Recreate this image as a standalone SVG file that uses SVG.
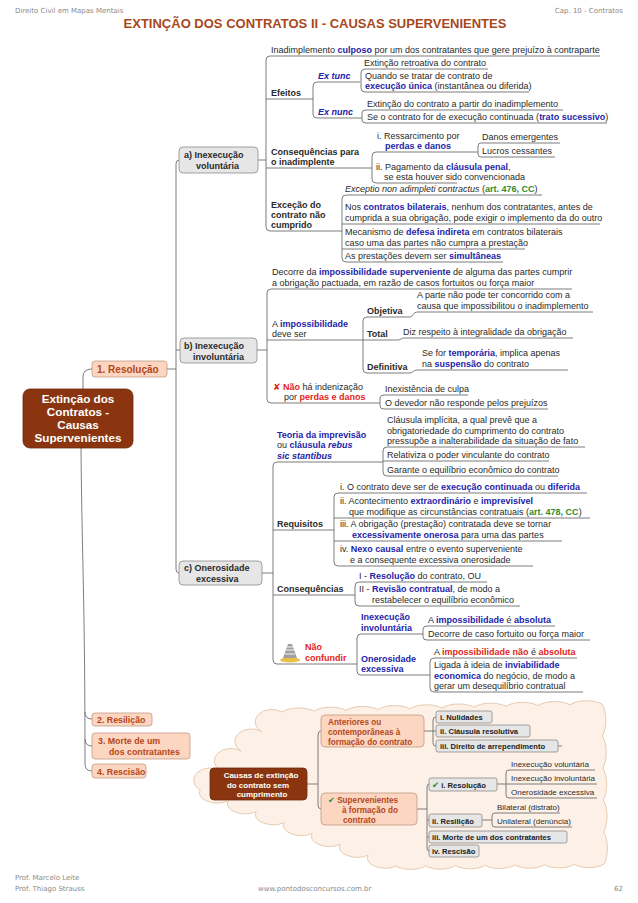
<svg xmlns="http://www.w3.org/2000/svg" width="638" height="903" viewBox="0 0 638 903">
<style>
text{font-family:"Liberation Sans",Arial,sans-serif;font-size:9px;fill:#2a2a2a}
.b{font-weight:bold}
.u{fill:#2424a8;font-weight:bold}
.r{fill:#e3241b;font-weight:bold}
.g{fill:#2e8b2e;font-weight:bold}
.i{font-style:italic}
.sym{font-family:"DejaVu Sans",sans-serif}
.ln{fill:none;stroke:#6e6e6e;stroke-width:0.9}
.hd{font-family:"DejaVu Sans",Verdana,sans-serif;font-size:7px;fill:#8a8a8a}
.gb{fill:#e6e6e6;stroke:#8a8a8a;stroke-width:0.8}
.sb{fill:#fcd6c1;stroke:#c39a83;stroke-width:0.8}
.sbt{fill:#b5461a;font-weight:bold}
.db{fill:#8a3510;stroke:#6e2a0c;stroke-width:0.8}
.wt{fill:#ffffff;font-weight:bold}
.s8{font-size:8px}
.bx{font-size:7.6px;font-weight:bold;fill:#222}
</style>

<text class="hd" x="15" y="13">Direito Civil em Mapas Mentais</text>
<text class="hd" x="623" y="13" text-anchor="end">Cap. 10 - Contratos</text>
<text x="315" y="28" text-anchor="middle" style="font-size:13px;font-weight:bold;fill:#a8481c">EXTINÇÃO DOS CONTRATOS II - CAUSAS SUPERVENIENTES</text>

<path d="M282,712 a20,9 0 0,1 32,-0.8 a20,9 0 0,1 32,-0.8 a20,9 0 0,1 32,-0.8 a20,9 0 0,1 32,-0.8 a20,9 0 0,1 32,-0.8 a20,9 0 0,1 32,-0.8 a20,9 0 0,1 32,-0.8 a20,9 0 0,1 32,-0.8 a20,9 0 0,1 32,-0.8 a20,9 0 0,1 32,-0.8 a9,20 0 0,1 0.4,32 a9,20 0 0,1 0.4,32 a9,20 0 0,1 0.4,32 a9,20 0 0,1 0.4,32 a9,20 0 0,1 0.4,32 a18,8 0 0,1 -29.7,0.3 a18,8 0 0,1 -29.7,0.3 a18,8 0 0,1 -29.7,0.3 a18,8 0 0,1 -29.7,0.3 a18,8 0 0,1 -29.7,0.3 a18,8 0 0,1 -29.7,0.3 a18,8 0 0,1 -29.7,0.3 a18,10 0 0,1 -28,-10.86 a18,10 0 0,1 -28,-10.86 a18,10 0 0,1 -28,-10.86 a18,10 0 0,1 -28,-10.86 a18,10 0 0,1 -28,-10.86 a18,10 0 0,1 -28,-10.86 a18,10 0 0,1 -28,-10.86 a16,12 0 0,1 20.5,-19.5 a16,12 0 0,1 20.5,-19.5 a16,12 0 0,1 20.5,-19.5 a16,12 0 0,1 20.5,-19.5 Z" fill="#fdf1e7" stroke="#e8cbb0" stroke-width="1"/>

<g id="connectors" class="ln">
<path d="M83,389 L83,377 Q83,369 92,369"/>
<path d="M81,448 C82,560 85,600 85,764 Q85,771 92,771"/>
<path d="M85,712 Q85,719 92,719"/>
<path d="M85,739 Q85,746 92,746"/>
<path d="M167,369 L176,369"/>
<path d="M179,160 Q176,160 176,164 L176,569 Q176,573 179,573"/>
<path d="M176,350 L180,350"/>
<path d="M258,160 L266,160"/>
<path d="M600,56 L270,56 Q266,56 266,60 L266,227 Q266,231 270,231 L342,231"/>
<path d="M266,99 L313,99"/>
<path d="M266,168 L372,168"/>
<path d="M360,82 L317,82 Q313,82 313,86 L313,114 Q313,118 317,118 L362,118"/>
<path d="M488,69 L365,69 Q361,69 361,73 L361,88 Q361,92 365,92 L529,92"/>
<path d="M563,110 L366,110 Q362,110 362,113 L362,120 Q362,123 366,123 L607,123"/>
<path d="M478,152 L376,152 Q372,152 372,156 L372,179 Q372,183 376,183 L457,183"/>
<path d="M560,143 L481,143 Q478,143 478,146 L478,154 Q478,157 481,157 L555,157"/>
<path d="M542,195 L346,195 Q342,195 342,199 L342,258 Q342,262 346,262 L503,262"/>
<path d="M342,224 L600,224"/>
<path d="M342,249 L525,249"/>
<path d="M257,350 L267,350"/>
<path d="M572,289 L271,289 Q267,289 267,293 L267,399 Q267,403 271,403 L380,403"/>
<path d="M267,340 L363,340"/>
<path d="M410,317 L367,317 Q363,317 363,321 L363,369 Q363,373 367,373 L410,373"/>
<path d="M363,340 L398,340"/>
<path d="M410,317 C413,317 413,312 417,312 L593,312"/>
<path d="M398,340 C401,340 401,338 404,338 L573,338"/>
<path d="M410,373 C413,373 413,370 417,370 L568,370"/>
<path d="M468,395 L384,395 Q380,395 380,398 L380,406 Q380,409 384,409 L548,409"/>
<path d="M262,573 L273,573"/>
<path d="M383,462 L277,462 Q273,462 273,466 L273,660 Q273,664 277,664 L357,664"/>
<path d="M273,530 L334,530"/>
<path d="M273,595 L355,595"/>
<path d="M585,447 L387,447 Q383,447 383,451 L383,472 Q383,476 387,476 L558,476"/>
<path d="M383,461 L549,461"/>
<path d="M587,493 L338,493 Q334,493 334,497 L334,562 Q334,566 338,566 L533,566"/>
<path d="M334,518 L590,518"/>
<path d="M334,541 L562,541"/>
<path d="M487,582 L359,582 Q355,582 355,586 L355,602 Q355,606 359,606 L520,606"/>
<path d="M423,634 L361,634 Q357,634 357,638 L357,671 Q357,675 361,675 L430,675"/>
<path d="M555,626 L427,626 Q423,626 423,629 L423,637 Q423,640 427,640 L590,640"/>
<path d="M577,658 L434,658 Q430,658 430,662 L430,688 Q430,692 434,692 L583,692"/>
<path d="M307,784 L318,784"/>
<path d="M321,731 Q318,731 318,735 L318,805 Q318,809 321,809"/>
<path d="M424,731 L436,731"/>
<path d="M436,717 Q433,717 433,720 L433,743 Q433,746 436,746"/>
<path d="M558,746 L562,746"/>
<path d="M417,809 L427,809"/>
<path d="M429,784 Q427,784 427,787 L427,848 Q427,851 429,851"/>
<path d="M427,820 L429,820"/>
<path d="M427,837 L429,837"/>
<path d="M497,784 L597,784"/>
<path d="M595,770 L509,770 Q506,770 506,773 L506,795 Q506,798 509,798 L597,798"/>
<path d="M482,820 L492,820"/>
<path d="M560,813 L495,813 Q492,813 492,816 L492,824 Q492,827 495,827 L572,827"/>
</g>

<g id="main">
<rect class="db" x="23" y="389" width="110" height="59" rx="7"/>
<text class="wt" x="78" y="403" text-anchor="middle" style="font-size:11.7px">Extinção dos</text>
<text class="wt" x="78" y="416" text-anchor="middle" style="font-size:11.7px">Contratos -</text>
<text class="wt" x="78" y="429" text-anchor="middle" style="font-size:11.7px">Causas</text>
<text class="wt" x="78" y="442" text-anchor="middle" style="font-size:11.7px">Supervenientes</text>
</g>

<g id="n1">
<rect class="sb" x="92" y="361" width="75" height="16" rx="3"/>
<text class="sbt" x="97" y="373" style="font-size:10px">1. Resolução</text>
</g>
<g id="n2">
<rect class="sb" x="92" y="713" width="60" height="13" rx="3"/>
<text class="sbt" x="97" y="723" style="font-size:8.8px">2. Resilição</text>
</g>
<g id="n3">
<rect class="sb" x="92" y="733" width="98" height="26" rx="3"/>
<text class="sbt" x="98" y="744" style="font-size:8.8px">3. Morte de um</text>
<text class="sbt" x="109" y="755" style="font-size:8.8px">dos contratantes</text>
</g>
<g id="n4">
<rect class="sb" x="92" y="764" width="54" height="14" rx="3"/>
<text class="sbt" x="97" y="774.5" style="font-size:8.8px">4. Rescisão</text>
</g>

<g id="na">
<rect class="gb" x="179" y="147" width="79" height="26" rx="4"/>
<text class="b" x="184" y="158">a) Inexecução</text>
<text class="b" x="196" y="169">voluntária</text>
</g>
<g id="nb">
<rect class="gb" x="180" y="338" width="77" height="25" rx="4"/>
<text class="b" x="184" y="349">b) Inexecução</text>
<text class="b" x="193" y="360">involuntária</text>
</g>
<g id="nc">
<rect class="gb" x="179" y="561" width="83" height="24" rx="4"/>
<text class="b" x="184" y="571">c) Onerosidade</text>
<text class="b" x="196" y="582">excessiva</text>
</g>

<g id="a-branch">
<text x="271" y="53">Inadimplemento <tspan class="u">culposo</tspan> por um dos contratantes que gere prejuízo à contraparte</text>
<text class="b" x="271" y="96">Efeitos</text>
<text class="u i" x="318" y="79">Ex tunc</text>
<text class="u i" x="318" y="115">Ex nunc</text>
<text x="364" y="66">Extinção retroativa do contrato</text>
<text x="365" y="79">Quando se tratar de contrato de</text>
<text x="365" y="89"><tspan class="u">execução única</tspan> (instantânea ou diferida)</text>
<text x="367" y="107">Extinção do contrato a partir do inadimplemento</text>
<text x="367" y="120">Se o contrato for de execução continuada (<tspan class="u">trato sucessivo</tspan>)</text>
<text class="b" x="271" y="155">Consequências para</text>
<text class="b" x="271" y="165">o inadimplente</text>
<text x="377" y="139">i. Ressarcimento por</text>
<text class="u" x="385" y="149">perdas e danos</text>
<text x="482" y="140">Danos emergentes</text>
<text x="482" y="154">Lucros cessantes</text>
<text x="376" y="170">ii. Pagamento da <tspan class="u">cláusula penal</tspan>,</text>
<text x="384" y="180">se esta houver sido convencionada</text>
<text class="b" x="271" y="208">Exceção do</text>
<text class="b" x="271" y="218">contrato não</text>
<text class="b" x="271" y="228">cumprido</text>
<text x="345" y="192"><tspan class="i">Exceptio non adimpleti contractus</tspan> (<tspan class="g">art. 476, CC</tspan>)</text>
<text x="345" y="210">Nos <tspan class="u">contratos bilaterais</tspan>, nenhum dos contratantes, antes de</text>
<text x="345" y="221">cumprida a sua obrigação, pode exigir o implemento da do outro</text>
<text x="345" y="235">Mecanismo de <tspan class="u">defesa indireta</tspan> em contratos bilaterais</text>
<text x="345" y="246">caso uma das partes não cumpra a prestação</text>
<text x="345" y="259">As prestações devem ser <tspan class="u">simultâneas</tspan></text>
</g>

<g id="b-branch">
<text x="272" y="275">Decorre da <tspan class="u">impossibilidade superveniente</tspan> de alguma das partes cumprir</text>
<text x="272" y="286">a obrigação pactuada, em razão de casos fortuitos ou força maior</text>
<text x="272" y="327">A <tspan class="u">impossibilidade</tspan></text>
<text x="272" y="337">deve ser</text>
<text class="b" x="367" y="314">Objetiva</text>
<text class="b" x="367" y="337">Total</text>
<text class="b" x="367" y="370">Definitiva</text>
<text x="417" y="298">A parte não pode ter concorrido com a</text>
<text x="417" y="309">causa que impossibilitou o inadimplemento</text>
<text x="403" y="335">Diz respeito à integralidade da obrigação</text>
<text x="422" y="356">Se for <tspan class="u">temporária</tspan>, implica apenas</text>
<text x="422" y="367">na <tspan class="u">suspensão</tspan> do contrato</text>
<text x="273" y="390"><tspan class="r sym">✘</tspan> <tspan class="r">Não</tspan> há indenização</text>
<text x="284" y="400">por <tspan class="r">perdas e danos</tspan></text>
<text x="385" y="392">Inexistência de culpa</text>
<text x="385" y="406">O devedor não responde pelos prejuízos</text>
</g>

<g id="c-branch">
<text class="u" x="277" y="438">Teoria da imprevisão</text>
<text x="277" y="448">ou <tspan class="u">cláusula <tspan class="i">rebus</tspan></tspan></text>
<text class="u i" x="277" y="459">sic stantibus</text>
<text x="387" y="423">Cláusula implícita, a qual prevê que a</text>
<text x="387" y="434">obrigatoriedade do cumprimento do contrato</text>
<text x="387" y="444">pressupõe a inalterabilidade da situação de fato</text>
<text x="387" y="458">Relativiza o poder vinculante do contrato</text>
<text x="387" y="473">Garante o equilíbrio econômico do contrato</text>
<text class="b" x="277" y="527">Requisitos</text>
<text x="340" y="490">i. O contrato deve ser de <tspan class="u">execução continuada</tspan> ou <tspan class="u">diferida</tspan></text>
<text x="340" y="504">ii. Acontecimento <tspan class="u">extraordinário</tspan> e <tspan class="u">imprevisível</tspan></text>
<text x="349" y="515">que modifique as circunstâncias contratuais (<tspan class="g">art. 478, CC</tspan>)</text>
<text x="340" y="527">iii. A obrigação (prestação) contratada deve se tornar</text>
<text x="352" y="538"><tspan class="u">excessivamente onerosa</tspan> para uma das partes</text>
<text x="340" y="552">iv. <tspan class="u">Nexo causal</tspan> entre o evento superveniente</text>
<text x="350" y="563">e a consequente excessiva onerosidade</text>
<text class="b" x="277" y="592">Consequências</text>
<text x="359" y="579">I - <tspan class="u">Resolução</tspan> do contrato, OU</text>
<text x="359" y="592">II - <tspan class="u">Revisão contratual</tspan>, de modo a</text>
<text x="372" y="603">restabelecer o equilíbrio econômico</text>
<g id="icon">
<ellipse cx="290" cy="660" rx="10" ry="2.5" fill="#e6bf45"/>
<path d="M283,658 L297,658 L292,644 L288,644 Z" fill="#a0a0a0"/>
<path d="M285,654 L295,654 M286,650 L294,650 M287,647 L293,647" stroke="#ffffff" stroke-width="0.9"/>
</g>
<text class="r" x="305" y="650">Não</text>
<text class="r" x="305" y="661">confundir</text>
<text class="u" x="361" y="620">Inexecução</text>
<text class="u" x="361" y="631">involuntária</text>
<text class="u" x="361" y="662">Onerosidade</text>
<text class="u" x="361" y="672">excessiva</text>
<text x="428" y="623">A <tspan class="u">impossibilidade</tspan> é <tspan class="u">absoluta</tspan></text>
<text x="428" y="637">Decorre de caso fortuito ou força maior</text>
<text x="434" y="655">A <tspan class="r">impossibilidade não</tspan> é <tspan class="r">absoluta</tspan></text>
<text x="434" y="668">Ligada à ideia de <tspan class="u">inviabilidade</tspan></text>
<text x="434" y="679"><tspan class="u">economica</tspan> do negócio, de modo a</text>
<text x="434" y="689">gerar um desequilíbrio contratual</text>
</g>

<g id="causas">
<rect class="db" x="210" y="768" width="97" height="32" rx="4"/>
<text class="wt s8" x="261" y="778" text-anchor="middle">Causas de extinção</text>
<text class="wt s8" x="258" y="788" text-anchor="middle">do contrato sem</text>
<text class="wt s8" x="262" y="797" text-anchor="middle">cumprimento</text>
</g>
<g id="anteriores">
<rect class="sb" x="321" y="715" width="103" height="32" rx="4"/>
<text class="sbt" x="328" y="725" style="font-size:8.2px">Anteriores ou</text>
<text class="sbt" x="328" y="735" style="font-size:8.2px">contemporâneas à</text>
<text class="sbt" x="328" y="745" style="font-size:8.2px">formação do contrato</text>
</g>
<g id="supervenientes">
<rect class="sb" x="321" y="793" width="96" height="32" rx="4"/>
<text x="328" y="803" style="font-size:8.2px"><tspan class="g sym">✔</tspan> <tspan class="sbt">Supervenientes</tspan></text>
<text class="sbt" x="342" y="813" style="font-size:8.2px">à formação do</text>
<text class="sbt" x="343" y="823" style="font-size:8.2px">contrato</text>
</g>
<g id="nulidades"><rect class="gb" x="436" y="711" width="56" height="12" rx="2"/><text class="bx" x="440" y="720">i. Nulidades</text></g>
<g id="clausula"><rect class="gb" x="436" y="725" width="94" height="12" rx="2"/><text class="bx" x="440" y="734">ii. Cláusula resolutiva</text></g>
<g id="arrependimento"><rect class="gb" x="436" y="740" width="122" height="12" rx="2"/><text class="bx" x="440" y="749">iii. Direito de arrependimento</text></g>
<g id="sresolucao"><rect class="gb" x="429" y="778" width="68" height="13" rx="2"/><text class="bx" x="432" y="788"><tspan class="g sym" style="font-size:8.5px">✔</tspan> i. Resolução</text></g>
<g id="sresilicao"><rect class="gb" x="429" y="814" width="53" height="13" rx="2"/><text class="bx" x="432" y="824">ii. Resilição</text></g>
<g id="smorte"><rect class="gb" x="429" y="831" width="138" height="12" rx="2"/><text class="bx" x="432" y="840">iii. Morte de um dos contratantes</text></g>
<g id="srescisao"><rect class="gb" x="429" y="845" width="50" height="12" rx="2"/><text class="bx" x="432" y="854">iv. Rescisão</text></g>
<g id="subleaves">
<text class="s8" x="511" y="767">Inexecução voluntária</text>
<text class="s8" x="511" y="781">Inexecução involuntária</text>
<text class="s8" x="511" y="795">Onerosidade excessiva</text>
<text class="s8" x="497" y="810">Bilateral (distrato)</text>
<text class="s8" x="497" y="824">Unilateral (denúncia)</text>
</g>

<text class="hd" x="15" y="880">Prof. Marcelo Leite</text>
<text class="hd" x="15" y="891">Prof. Thiago Strauss</text>
<text class="hd" x="258" y="891">www.pontodosconcursos.com.br</text>
<text class="hd" x="623" y="891" text-anchor="end">62</text>
</svg>
